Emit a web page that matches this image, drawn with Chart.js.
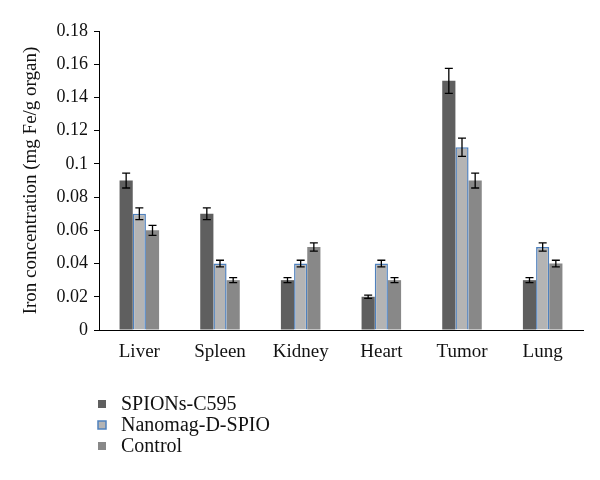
<!DOCTYPE html>
<html>
<head>
<meta charset="utf-8">
<script src="https://cdn.jsdelivr.net/npm/chart.js@4"></script>
<style>
html,body{margin:0;padding:0;background:#fff;}
#wrap{width:600px;height:480px;position:relative;}
</style>
</head>
<body>
<div id="wrap"><canvas id="c" width="600" height="480"></canvas></div>
<script>
const categories = ["Liver", "Spleen", "Kidney", "Heart", "Tumor", "Lung"];
const seriesNames = ["SPIONs-C595", "Nanomag-D-SPIO", "Control"];
const spionsValues = [0.09, 0.07, 0.03, 0.02, 0.15, 0.03];
const nanomagValues = [0.07, 0.04, 0.04, 0.04, 0.11, 0.05];
const controlValues = [0.06, 0.03, 0.05, 0.03, 0.09, 0.04];
const spionsErrors = [0.0045, 0.0035, 0.0015, 0.001, 0.0075, 0.0015];
const nanomagErrors = [0.0035, 0.002, 0.002, 0.002, 0.0055, 0.0025];
const controlErrors = [0.003, 0.0015, 0.0025, 0.0015, 0.0045, 0.002];
const yTicks = [0, 0.02, 0.04, 0.06, 0.08, 0.1, 0.12, 0.14, 0.16, 0.18];
const yTitle = "Iron concentration (mg Fe/g organ)";

const FONT = "'Liberation Serif', 'Times New Roman', serif";
const colors = ["#5f5f5f", "#b4b4b4", "#888888"];
const borders = ["#5f5f5f", "#4f81bd", "#888888"];
const errs = [spionsErrors, nanomagErrors, controlErrors];

const errorBarPlugin = {
  id: 'errorBars',
  afterDatasetsDraw(chart) {
    const ctx = chart.ctx;
    const ys = chart.scales.y;
    ctx.save();
    ctx.strokeStyle = '#000';
    ctx.lineWidth = 1.3;
    chart.data.datasets.forEach((ds, di) => {
      const meta = chart.getDatasetMeta(di);
      meta.data.forEach((bar, i) => {
        const v = ds.data[i], e = errs[di][i];
        const x = bar.x;
        const yt = ys.getPixelForValue(v + e);
        const yb = ys.getPixelForValue(v - e);
        ctx.beginPath();
        ctx.moveTo(x, yt); ctx.lineTo(x, yb);
        ctx.moveTo(x - 4, yt); ctx.lineTo(x + 4, yt);
        ctx.moveTo(x - 4, yb); ctx.lineTo(x + 4, yb);
        ctx.stroke();
      });
    });
    ctx.restore();
  }
};

const legendPlugin = {
  id: 'customLegend',
  afterDraw(chart) {
    const ctx = chart.ctx;
    ctx.save();
    ctx.font = "20px " + FONT;
    ctx.textBaseline = 'middle';
    chart.data.datasets.forEach((ds, di) => {
      const cy = 404 + di * 21;
      ctx.fillStyle = colors[di];
      ctx.fillRect(98, cy - 4, 8, 8);
      if (di === 1) {
        ctx.strokeStyle = borders[1];
        ctx.lineWidth = 1.5;
        ctx.strokeRect(98, cy - 4, 8, 8);
      }
      ctx.fillStyle = '#111';
      ctx.fillText(ds.label, 121, cy + 1);
    });
    ctx.restore();
  }
};

new Chart(document.getElementById('c'), {
  type: 'bar',
  data: {
    labels: categories,
    datasets: [
      { label: seriesNames[0], data: spionsValues, backgroundColor: colors[0], borderColor: borders[0], borderWidth: 0 },
      { label: seriesNames[1], data: nanomagValues, backgroundColor: colors[1], borderColor: borders[1], borderWidth: 1.5 },
      { label: seriesNames[2], data: controlValues, backgroundColor: colors[2], borderColor: borders[2], borderWidth: 0 }
    ]
  },
  options: {
    responsive: false,
    animation: false,
    layout: { padding: { top: 31, left: 18, right: 17, bottom: 0 } },
    datasets: { bar: { categoryPercentage: 0.49, barPercentage: 1.0 } },
    plugins: { legend: { display: false }, tooltip: { enabled: false } },
    scales: {
      x: {
        grid: { display: false },
        border: { color: '#000', width: 1 },
        ticks: { color: '#111', font: { family: FONT, size: 19 }, padding: 3 },
        afterFit(s) { s.height = 150; }
      },
      y: {
        min: 0, max: 0.18,
        afterBuildTicks(s) { s.ticks = yTicks.map(v => ({ value: v })); },
        grid: { drawOnChartArea: false, drawTicks: true, tickLength: 5, color: '#000' },
        border: { color: '#000', width: 1 },
        ticks: { color: '#111', font: { family: FONT, size: 18 }, padding: 6,
          callback: v => String(+Number(v).toFixed(2)) },
        title: { display: true, text: yTitle, color: '#111', font: { family: FONT, size: 19 }, padding: 2 },
        afterFit(s) { s.width = 81; }
      }
    }
  },
  plugins: [errorBarPlugin, legendPlugin]
});
</script>
</body>
</html>
